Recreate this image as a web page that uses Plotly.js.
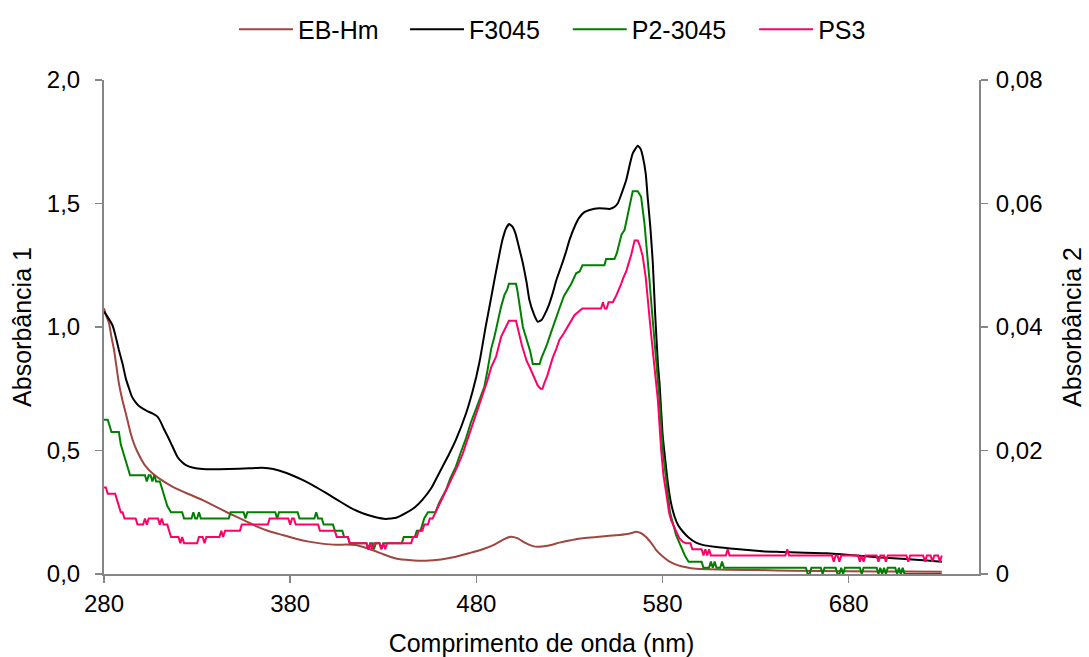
<!DOCTYPE html>
<html>
<head>
<meta charset="utf-8">
<script src="https://cdn.plot.ly/plotly-3.0.1.min.js"></script>
<style>html,body{margin:0;padding:0;background:#fff;}#chart{width:1089px;height:657px;}</style>
</head>
<body>
<div id="chart"></div>
<script>
// EB-Hm (Absorbância 1)
const ebWl = [280,281,282.7,284,285.4,288,290,291.7,294.3,296.5,298.8,302,306,311,316.7,325,332.8,340,347,355,361.6,368,375.9,383,390,397,404.6,410,415,424,430,436.8,445,453,461,469,476,483,490,495,498.6,502,506,510,513,518,524.6,530,535,546,556.9,562,565.9,568.5,571,574,576.6,580,583.8,588,592.7,598,605,615,632,650,680,710,730];
const ebAbs = [1.076,1.05,1.015,0.96,0.907,0.772,0.70,0.651,0.570,0.52,0.482,0.44,0.408,0.38,0.354,0.325,0.300,0.273,0.246,0.218,0.194,0.175,0.158,0.143,0.131,0.123,0.118,0.119,0.117,0.097,0.080,0.063,0.056,0.054,0.059,0.070,0.084,0.099,0.120,0.141,0.151,0.145,0.127,0.114,0.110,0.114,0.127,0.136,0.143,0.151,0.158,0.163,0.171,0.165,0.151,0.125,0.097,0.072,0.050,0.036,0.027,0.021,0.019,0.017,0.016,0.013,0.011,0.010,0.009];

// F3045 (Absorbância 1)
const fWl = [280,282,284.5,286,288,290,291.7,293.5,295,297,298.8,303,306,308.7,310.5,312,314,316,319.4,322,324,328,333,347,358,365,371,376,381,386.6,392,397,401,406,412,418.9,425,431.4,437,442,447,451,456,460,465,469,474.5,478,480,482,485,487.5,489.7,492,494,496,497.7,499.5,501,503,505,507,508.5,511,513,515,516.6,519,521,523,525.5,528,530,533,535,538,540.8,546,551.5,554,556,558,560.5,562.5,564,566.7,568.3,569.4,571,572,573.5,574.8,576,577.5,578.4,580,581.5,582.9,584.5,586.5,588.5,591,594,598,602,607,613,619.6,632,641,668,695,722,730];
const fAbs = [1.062,1.04,1.008,0.97,0.907,0.85,0.792,0.75,0.718,0.695,0.680,0.660,0.650,0.637,0.615,0.590,0.560,0.529,0.475,0.452,0.441,0.430,0.425,0.425,0.428,0.430,0.425,0.414,0.400,0.381,0.360,0.338,0.320,0.297,0.270,0.246,0.232,0.223,0.228,0.246,0.270,0.300,0.350,0.408,0.480,0.543,0.651,0.740,0.800,0.870,1.001,1.100,1.190,1.280,1.352,1.400,1.417,1.405,1.379,1.320,1.258,1.180,1.109,1.050,1.021,1.028,1.049,1.090,1.136,1.190,1.244,1.300,1.352,1.410,1.440,1.465,1.474,1.481,1.478,1.485,1.501,1.540,1.595,1.660,1.703,1.734,1.720,1.690,1.620,1.528,1.400,1.258,1.060,0.853,0.772,0.570,0.460,0.367,0.290,0.232,0.196,0.171,0.148,0.127,0.117,0.111,0.106,0.101,0.093,0.090,0.084,0.068,0.055,0.050];

// P2-3045 (Absorbância 2)
const p2Wl = [280,282,283,284,288,289,290,291,292,293,294,302,303,304,305,306,307,308,310,311,312,313,314,316,322,323,327,328,329,330,331,332,347,348,355,356,357,372,373,374,384,385,393,394,395,397,398,403,404,408,409,411,412,421,422,423,424,425,426,428,429,430,440,441,447,448,450,451,452,454,458,460,463.7,466,469,472,474.5,477,479.8,482,484.3,486,488,489.7,491.5,493.3,495.1,496.5,497.5,501.3,502,503.1,504,505,506,507.6,509,510.3,514,515,517.5,520,522,524.6,527,529,531,533.6,535.5,537,548.8,549.7,554.2,555.5,557,558,559.6,561.4,563,564,566.7,568.5,570.3,571.5,573,574.5,576,578.4,580.1,581.5,582.8,584,585.5,587.3,590,592,594,601,602,605,606,607,608,609,611,612,613,657,658,659,660,665,666,667,673,674,675,676,677,678,686,687,688,695,696,697,698,699,700,701,705,706,707,708,709,710,730];
const p2Abs = [0.025,0.025,0.024,0.023,0.023,0.021,0.020,0.019,0.018,0.017,0.016,0.016,0.015,0.016,0.016,0.015,0.016,0.015,0.015,0.014,0.013,0.012,0.011,0.010,0.010,0.009,0.009,0.010,0.009,0.009,0.010,0.009,0.009,0.010,0.010,0.009,0.010,0.010,0.009,0.010,0.010,0.009,0.009,0.010,0.009,0.009,0.008,0.008,0.007,0.007,0.006,0.006,0.005,0.005,0.004,0.005,0.005,0.004,0.005,0.005,0.004,0.005,0.005,0.006,0.006,0.007,0.007,0.008,0.009,0.010,0.010,0.0115,0.0136,0.0155,0.0174,0.020,0.022,0.0245,0.0266,0.0285,0.0303,0.033,0.0365,0.0384,0.041,0.0433,0.0452,0.046,0.047,0.047,0.046,0.0438,0.042,0.040,0.039,0.0374,0.036,0.034,0.034,0.035,0.0368,0.039,0.0406,0.043,0.045,0.046,0.047,0.0487,0.049,0.050,0.050,0.051,0.051,0.052,0.0538,0.055,0.0557,0.0584,0.061,0.062,0.062,0.0611,0.0568,0.052,0.0476,0.042,0.0368,0.0282,0.0201,0.016,0.0131,0.010,0.0082,0.0063,0.0044,0.003,0.002,0.002,0.001,0.001,0.002,0.001,0.002,0.001,0.001,0.002,0.001,0.001,0,0,0.001,0.001,0,0.001,0.001,0,0,0.001,0,0.001,0.001,0,0.001,0.001,0,0.001,0,0.001,0,0.001,0.001,0,0.001,0,0.001,0,0];

// PS3 (Absorbância 2)
const ps3Wl = [280,281,282,286,287,288,289,290,291,297,298,301,302,303,304,309,310,311,312,314,315,316,320,321,322,323,330,331,333,334,335,342,343,344,345,353,354,368,369,379,380,381,382,383,395,396,404,405,411,412,421,422,423,424,425,428,429,430,431,432,445,446,448,449,451,452,454,455,456.5,459,462,464.5,467.3,470,472.7,475.5,478.1,481,483.4,486,488,490.6,493.3,496,497.5,501.3,502,503.1,504.5,505.8,507,508.5,510,511.2,513,514.5,515.5,516.6,518,519.5,521,523,524.6,527,529,531,532.7,535,537,547,548,549,550,551,553.3,555,556.5,557.8,559,560.5,562,563.2,565,566.7,568,569.4,571,572.1,573.5,575,576.5,577.5,579.3,580.5,582,583.5,584.6,586.4,589,591,592.7,595,596,601,602,603,604,605,606,614,615,616,646,647,648,671,672,673,674,675,676,685,686,687,688,689,695,696,697,699,700,701,711,712,713,720,721,722,724,725,726,728,729,730];
const ps3Abs = [0.014,0.014,0.013,0.013,0.012,0.011,0.010,0.010,0.009,0.009,0.008,0.008,0.009,0.008,0.009,0.009,0.008,0.009,0.008,0.008,0.007,0.006,0.006,0.005,0.006,0.005,0.005,0.006,0.006,0.005,0.006,0.006,0.007,0.006,0.007,0.007,0.008,0.008,0.009,0.009,0.008,0.009,0.009,0.008,0.008,0.007,0.007,0.006,0.006,0.005,0.005,0.004,0.005,0.004,0.005,0.005,0.004,0.005,0.004,0.005,0.005,0.006,0.006,0.007,0.007,0.008,0.008,0.009,0.009,0.0105,0.0125,0.014,0.0158,0.0175,0.0195,0.022,0.0244,0.027,0.029,0.0314,0.0335,0.0352,0.0384,0.040,0.041,0.041,0.040,0.0384,0.037,0.0357,0.0345,0.0336,0.0325,0.0317,0.0305,0.030,0.030,0.031,0.032,0.0335,0.035,0.0365,0.0379,0.039,0.040,0.041,0.0419,0.0425,0.043,0.043,0.044,0.043,0.043,0.044,0.044,0.045,0.046,0.047,0.048,0.049,0.0505,0.0517,0.054,0.054,0.053,0.0514,0.048,0.0449,0.040,0.0355,0.031,0.0282,0.020,0.016,0.0131,0.010,0.0087,0.0074,0.0058,0.0052,0.005,0.005,0.004,0.004,0.003,0.004,0.003,0.004,0.003,0.003,0.004,0.003,0.003,0.004,0.003,0.003,0.002,0.003,0.003,0.002,0.003,0.003,0.002,0.003,0.002,0.003,0.003,0.002,0.003,0.003,0.002,0.003,0.003,0.002,0.003,0.003,0.002,0.003,0.003,0.002,0.003,0.003,0.002,0.003];

const seriesNames = ['EB-Hm','F3045','P2-3045','PS3'];
const seriesColors = ['#A0463F','#000000','#008000','#FF0066'];
const legendIds = ['legend','legend2','legend3','legend4'];

const FONT = 'Liberation Sans, Arial, sans-serif';
const AX = '#868686';
const TXT = {family: FONT, size: 25, color: '#000'};
const TICK = {family: FONT, size: 24, color: '#000'};

const traces = [
  {x: ebWl, y: ebAbs, yaxis: 'y', shape: 'spline'},
  {x: fWl, y: fAbs, yaxis: 'y', shape: 'spline'},
  {x: p2Wl, y: p2Abs, yaxis: 'y2', shape: 'linear'},
  {x: ps3Wl, y: ps3Abs, yaxis: 'y2', shape: 'linear'}
].map((t, i) => ({
  type: 'scatter', mode: 'lines', hoverinfo: 'skip',
  x: t.x, y: t.y, yaxis: t.yaxis, name: seriesNames[i], legend: legendIds[i],
  line: {color: seriesColors[i], width: 2, shape: t.shape, smoothing: 0.4}
}));

const axisCommon = {
  showgrid: false, zeroline: false, showline: true, linecolor: AX, linewidth: 2,
  ticks: 'outside', ticklen: 7, tickwidth: 1.5, tickcolor: AX, tickfont: TICK
};

const legendBase = {yref: 'container', y: 0.955, yanchor: 'middle', xanchor: 'left', font: TXT,
                    itemwidth: 54, bgcolor: 'rgba(0,0,0,0)', borderwidth: 0};
const legendX = [0.1486, 0.344, 0.530, 0.743];

const layout = {
  width: 1089, height: 657,
  paper_bgcolor: '#fff', plot_bgcolor: '#fff',
  separators: ',.',
  font: TXT,
  margin: {l: 104, r: 110, t: 80, b: 83},
  showlegend: true,
  xaxis: Object.assign({}, axisCommon, {
    range: [280, 750], tick0: 280, dtick: 100,
    title: {text: 'Comprimento de onda (nm)', font: TXT, standoff: 21}
  }),
  yaxis: Object.assign({}, axisCommon, {
    range: [0, 2], dtick: 0.5, tickformat: '.1f', ticklabelstandoff: 10,
    title: {text: 'Absorbância 1', font: TXT, standoff: 8}
  }),
  yaxis2: Object.assign({}, axisCommon, {
    range: [0, 0.08], dtick: 0.02, overlaying: 'y', side: 'right', ticklabelstandoff: 3,
    title: {text: 'Absorbância 2', font: TXT, standoff: 22}
  })
};
legendIds.forEach((id, i) => { layout[id] = Object.assign({}, legendBase, {x: legendX[i]}); });

Plotly.newPlot('chart', traces, layout, {displayModeBar: false, staticPlot: true});
</script>
</body>
</html>
